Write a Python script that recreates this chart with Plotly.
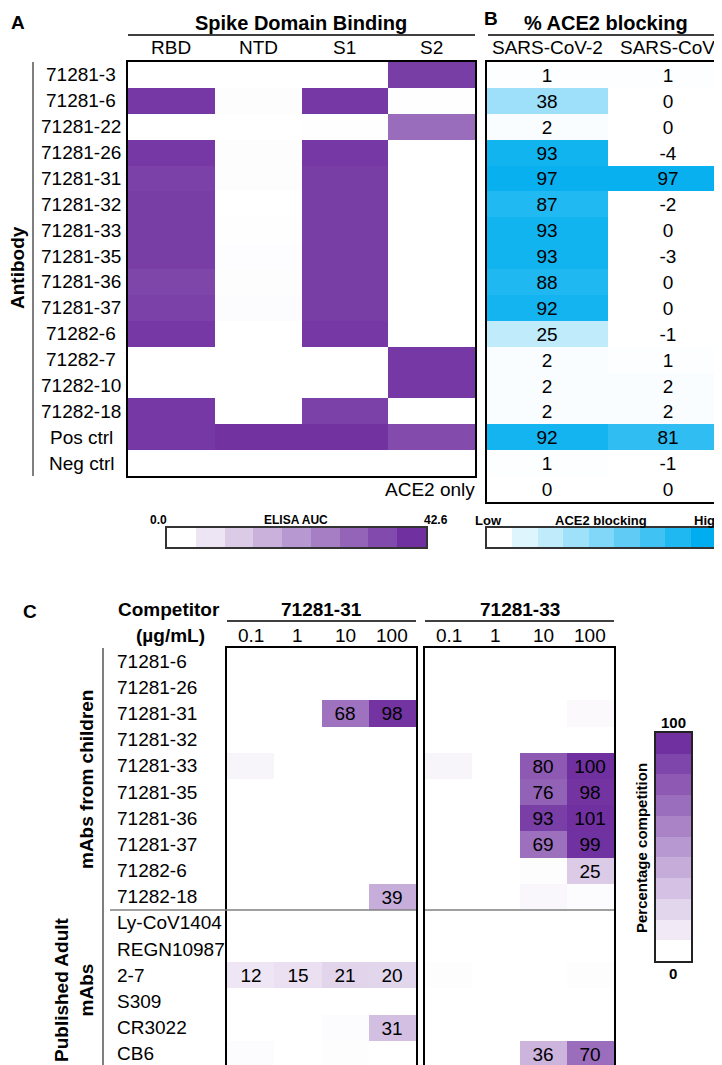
import plotly.graph_objects as go

W, H = 722, 1065
def px(x):
    return x / W
def py(y):
    return 1 - y / H

FONT = "Liberation Sans, Arial, sans-serif"

# ---------------- Panel A data (ELISA AUC) ----------------
antibodies = ['71281-3', '71281-6', '71281-22', '71281-26', '71281-31', '71281-32',
              '71281-33', '71281-35', '71281-36', '71281-37', '71282-6', '71282-7',
              '71282-10', '71282-18', 'Pos ctrl', 'Neg ctrl']
domains = ['RBD', 'NTD', 'S1', 'S2']
rbd_auc = [0, 41, 0, 41, 39, 40, 40, 40, 38, 39, 41, 0, 0, 41, 41, 0]
ntd_auc = [0, 0.5, 0, 0.5, 0.5, 0, 0.3, 0.6, 0.5, 0.8, 0, 0, 0, 0, 42, 0]
s1_auc = [0, 41, 0.3, 41, 40, 40, 40, 40, 40, 40, 41, 0, 0, 39, 42, 0]
s2_auc = [40, 0.3, 30, 0, 0, 0, 0, 0, 0, 0, 0, 41, 41, 0, 37, 0]
elisa_max = 42.6
elisa_steps = [0, 5.325, 10.65, 15.975, 21.3, 26.625, 31.95, 37.275, 42.6]

# ---------------- Panel B data (% ACE2 blocking) ----------------
ace2_rows = antibodies + ['ACE2 only']
ace2_cols = ['SARS-CoV-2', 'SARS-CoV']
block_sars2 = [1, 38, 2, 93, 97, 87, 93, 93, 88, 92, 25, 2, 2, 2, 92, 1, 0]
block_sars1 = [1, 0, 0, -4, 97, -2, 0, -3, 0, 0, -1, 1, 2, 2, 81, -1, 0]
ace2_steps = [0, 12.5, 25, 37.5, 50, 62.5, 75, 87.5, 100]

# ---------------- Panel C data (% competition) ----------------
comp_rows = ['71281-6', '71281-26', '71281-31', '71281-32', '71281-33', '71281-35',
             '71281-36', '71281-37', '71282-6', '71282-18', 'Ly-CoV1404', 'REGN10987',
             '2-7', 'S309', 'CR3022', 'CB6']
concs = ['0.1', '1', '10', '100']
competitors = ['71281-31', '71281-33']
c31_01 = [0, 0, 0, 0, 5, 0, 0, 0, 0, 0, 0, 0, 12, 0, 0, 2]
c31_1 = [0, 0, 0, 0, 0, 0, 0, 0, 0, 0, 0, 0, 15, 0, 0, 0]
c31_10 = [0, 0, 68, 0, 0, 0, 0, 0, 0, 0, 0, 0, 21, 0, 2, 1]
c31_100 = [0, 0, 98, 0, 0, 0, 0, 0, 0, 39, 0, 0, 20, 0, 31, 0]
c33_01 = [0, 0, 0, 0, 5, 0, 0, 0, 0, 0, 0, 0, 1, 0, 0, 0]
c33_1 = [0, 0, 0, 0, 0, 0, 0, 0, 0, 0, 0, 0, 0, 0, 0, 0]
c33_10 = [0, 0, 0, 0, 80, 76, 93, 69, 1, 4, 0, 0, 0, 0, 0, 36]
c33_100 = [0, 0, 3, 0, 100, 98, 101, 99, 25, 2, 0, 0, 1, 0, 0, 70]
comp_steps = [0, 10, 20, 30, 40, 50, 60, 70, 80, 90, 100]
label_threshold = 10

PURPLE = [[0, '#ffffff'], [1, '#7030a0']]
BLUE = [[0, '#ffffff'], [1, '#00aeef']]

fig = go.Figure()

# Panel A heatmap
zA = [list(r) for r in zip(rbd_auc, ntd_auc, s1_auc, s2_auc)]
fig.add_trace(go.Heatmap(z=zA, x=list(range(len(domains))), y=list(range(len(antibodies))),
                         colorscale=PURPLE, zmin=0, zmax=elisa_max, showscale=False,
                         xaxis='x', yaxis='y', hoverinfo='skip'))

# Panel B heatmap
zB = [list(r) for r in zip(block_sars2, block_sars1)]
tB = [[str(a), str(b)] for a, b in zB]
fig.add_trace(go.Heatmap(z=zB, x=[0, 1], y=list(range(len(ace2_rows))), text=tB,
                         texttemplate='%{text}', textfont=dict(family=FONT, size=19, color='black'),
                         colorscale=BLUE, zmin=0, zmax=100, showscale=False,
                         xaxis='x2', yaxis='y2', hoverinfo='skip'))

# Panel C heatmaps
def comp_text(cols):
    return [[str(v) if v >= label_threshold else '' for v in row] for row in cols]

z31 = [list(r) for r in zip(c31_01, c31_1, c31_10, c31_100)]
z33 = [list(r) for r in zip(c33_01, c33_1, c33_10, c33_100)]
for z, xa, ya in [(z31, 'x3', 'y3'), (z33, 'x4', 'y4')]:
    fig.add_trace(go.Heatmap(z=z, x=list(range(4)), y=list(range(len(comp_rows))),
                             text=comp_text(z), texttemplate='%{text}',
                             textfont=dict(family=FONT, size=19, color='black'),
                             colorscale=PURPLE, zmin=0, zmax=100, showscale=False,
                             xaxis=xa, yaxis=ya, hoverinfo='skip'))

# Colour keys
fig.add_trace(go.Heatmap(z=[elisa_steps], x=list(range(len(elisa_steps))), y=[0],
                         colorscale=PURPLE, zmin=0, zmax=elisa_max, showscale=False,
                         xaxis='x5', yaxis='y5', hoverinfo='skip'))
fig.add_trace(go.Heatmap(z=[ace2_steps], x=list(range(len(ace2_steps))), y=[0],
                         colorscale=BLUE, zmin=0, zmax=100, showscale=False,
                         xaxis='x6', yaxis='y6', hoverinfo='skip'))
fig.add_trace(go.Heatmap(z=[[v] for v in comp_steps], x=[0], y=list(range(len(comp_steps))),
                         colorscale=PURPLE, zmin=0, zmax=100, showscale=False,
                         xaxis='x7', yaxis='y7', hoverinfo='skip'))

def ax(domain, rng, anchor, lw=2, lc='black'):
    return dict(domain=domain, range=rng, anchor=anchor, showticklabels=False, ticks='',
                showgrid=False, zeroline=False, showline=True, mirror=True,
                linewidth=lw, linecolor=lc, fixedrange=True)

nA = len(antibodies)
nB = len(ace2_rows)
nC = len(comp_rows)
C_TOP, C_BOT = 640, 1059
layout = dict(
    width=W, height=H, margin=dict(l=0, r=0, t=0, b=0),
    paper_bgcolor='white', plot_bgcolor='white', showlegend=False,
    font=dict(family=FONT, size=19, color='black'),
    xaxis=ax([px(120), px(467)], [-0.5, 3.5], 'y'),
    yaxis=ax([py(468), py(54)], [nA - 0.5, -0.5], 'x'),
    xaxis2=ax([px(479), px(720)], [-0.5, 1.5], 'y2'),
    yaxis2=ax([py(494), py(54)], [nB - 0.5, -0.5], 'x2'),
    xaxis3=ax([px(219), px(408)], [-0.5, 3.5], 'y3'),
    yaxis3=ax([py(C_BOT), py(C_TOP)], [nC - 0.5, -0.5], 'x3'),
    xaxis4=ax([px(417), px(606)], [-0.5, 3.5], 'y4'),
    yaxis4=ax([py(C_BOT), py(C_TOP)], [nC - 0.5, -0.5], 'x4'),
    xaxis5=ax([px(159), px(418)], [-0.5, len(elisa_steps) - 0.5], 'y5', 1.5, '#333333'),
    yaxis5=ax([py(539), py(520)], [-0.5, 0.5], 'x5', 1.5, '#333333'),
    xaxis6=ax([px(479), px(708)], [-0.5, len(ace2_steps) - 0.5], 'y6', 1.5, '#333333'),
    yaxis6=ax([py(539), py(520)], [-0.5, 0.5], 'x6', 1.5, '#333333'),
    xaxis7=ax([px(648), px(683)], [-0.5, 0.5], 'y7', 2, '#222222'),
    yaxis7=ax([py(953), py(725)], [-0.5, len(comp_steps) - 0.5], 'x7', 2, '#222222'),
)
fig.update_layout(**layout)

ann = []
def text(x, y, s, size=19, bold=False, xanchor='center', xref='paper', yref='paper', angle=0, color='black'):
    if bold:
        s = '<b>' + s + '</b>'
    ann.append(dict(x=x, y=y, xref=xref, yref=yref, text=s, showarrow=False,
                    xanchor=xanchor, yanchor='middle', textangle=angle,
                    font=dict(family=FONT, size=size, color=color)))

# Panel A texts
text(px(10), py(15), 'A', 19, True)
text(px(293), py(15), 'Spike Domain Binding', 20, True)
for j, d in enumerate(domains):
    text(j, py(40), d, 19, xref='x')
for i, a in enumerate(antibodies):
    text(px(73), i, a, 19, yref='y')
text(px(10), py(260), 'Antibody', 19, True, angle=-90)
text(px(469), nB - 1, ace2_rows[-1], 19, xanchor='right', yref='y2')

# Panel B texts
text(px(483), py(10), 'B', 19, True)
text(px(598), py(15), '% ACE2 blocking', 20, True)
for j, c in enumerate(ace2_cols):
    text(j, py(40), c, 19, xref='x2')

# Colour key texts
text(px(140), py(512), '0.0', 12, True, xanchor='left')
text(px(288), py(512), 'ELISA AUC', 12, True)
text(px(442), py(512), '42.6', 12, True, xanchor='right')
text(px(465), py(512), 'Low', 13, True, xanchor='left')
text(px(593), py(512), 'ACE2 blocking', 13, True)
text(px(717), py(512), 'High', 13, True, xanchor='right')

# Panel C texts
text(px(22), py(603), 'C', 19, True)
text(px(161), py(601), 'Competitor', 19, True)
text(px(162), py(627), '(µg/mL)', 19, True)
for k, (comp, xr) in enumerate(zip(competitors, ['x3', 'x4'])):
    text(1.5, py(601), comp, 19, True, xref=xr)
    for j, c in enumerate(concs):
        text(j, py(627), c, 19, xref=xr)
for i, r in enumerate(comp_rows):
    text(px(107), i, r, 19, xanchor='left', yref='y3')
text(px(78), py(772), 'mAbs from children', 19, True, angle=-90)
text(px(66), py(982), 'Published Adult<br>mAbs', 19, True, angle=-90)
text(px(665), py(714), '100', 15, True)
text(px(665), py(965), '0', 15, True)
text(px(633), py(840), 'Percentage competition', 15, True, angle=-90)

fig.update_layout(annotations=ann)

# Decorative rules
def line(x0, y0, x1, y1, w=1.5, c='black'):
    fig.add_shape(type='line', xref='paper', yref='paper', x0=px(x0), y0=py(y0),
                  x1=px(x1), y1=py(y1), line=dict(color=c, width=w))

sep_y = C_TOP + (C_BOT - C_TOP) * 10 / nC
line(120, 27, 467, 27)
line(480, 27, 720, 27)
line(25, 54, 25, 468, 1.5, '#555555')
line(219, 613, 408, 613)
line(417, 613, 606, 613)
line(95, C_TOP, 95, C_BOT, 1.5, '#555555')
line(102, sep_y, 408, sep_y, 1.5, '#808080')
line(417, sep_y, 606, sep_y, 1.5, '#808080')

fig.write_html("out.html")
